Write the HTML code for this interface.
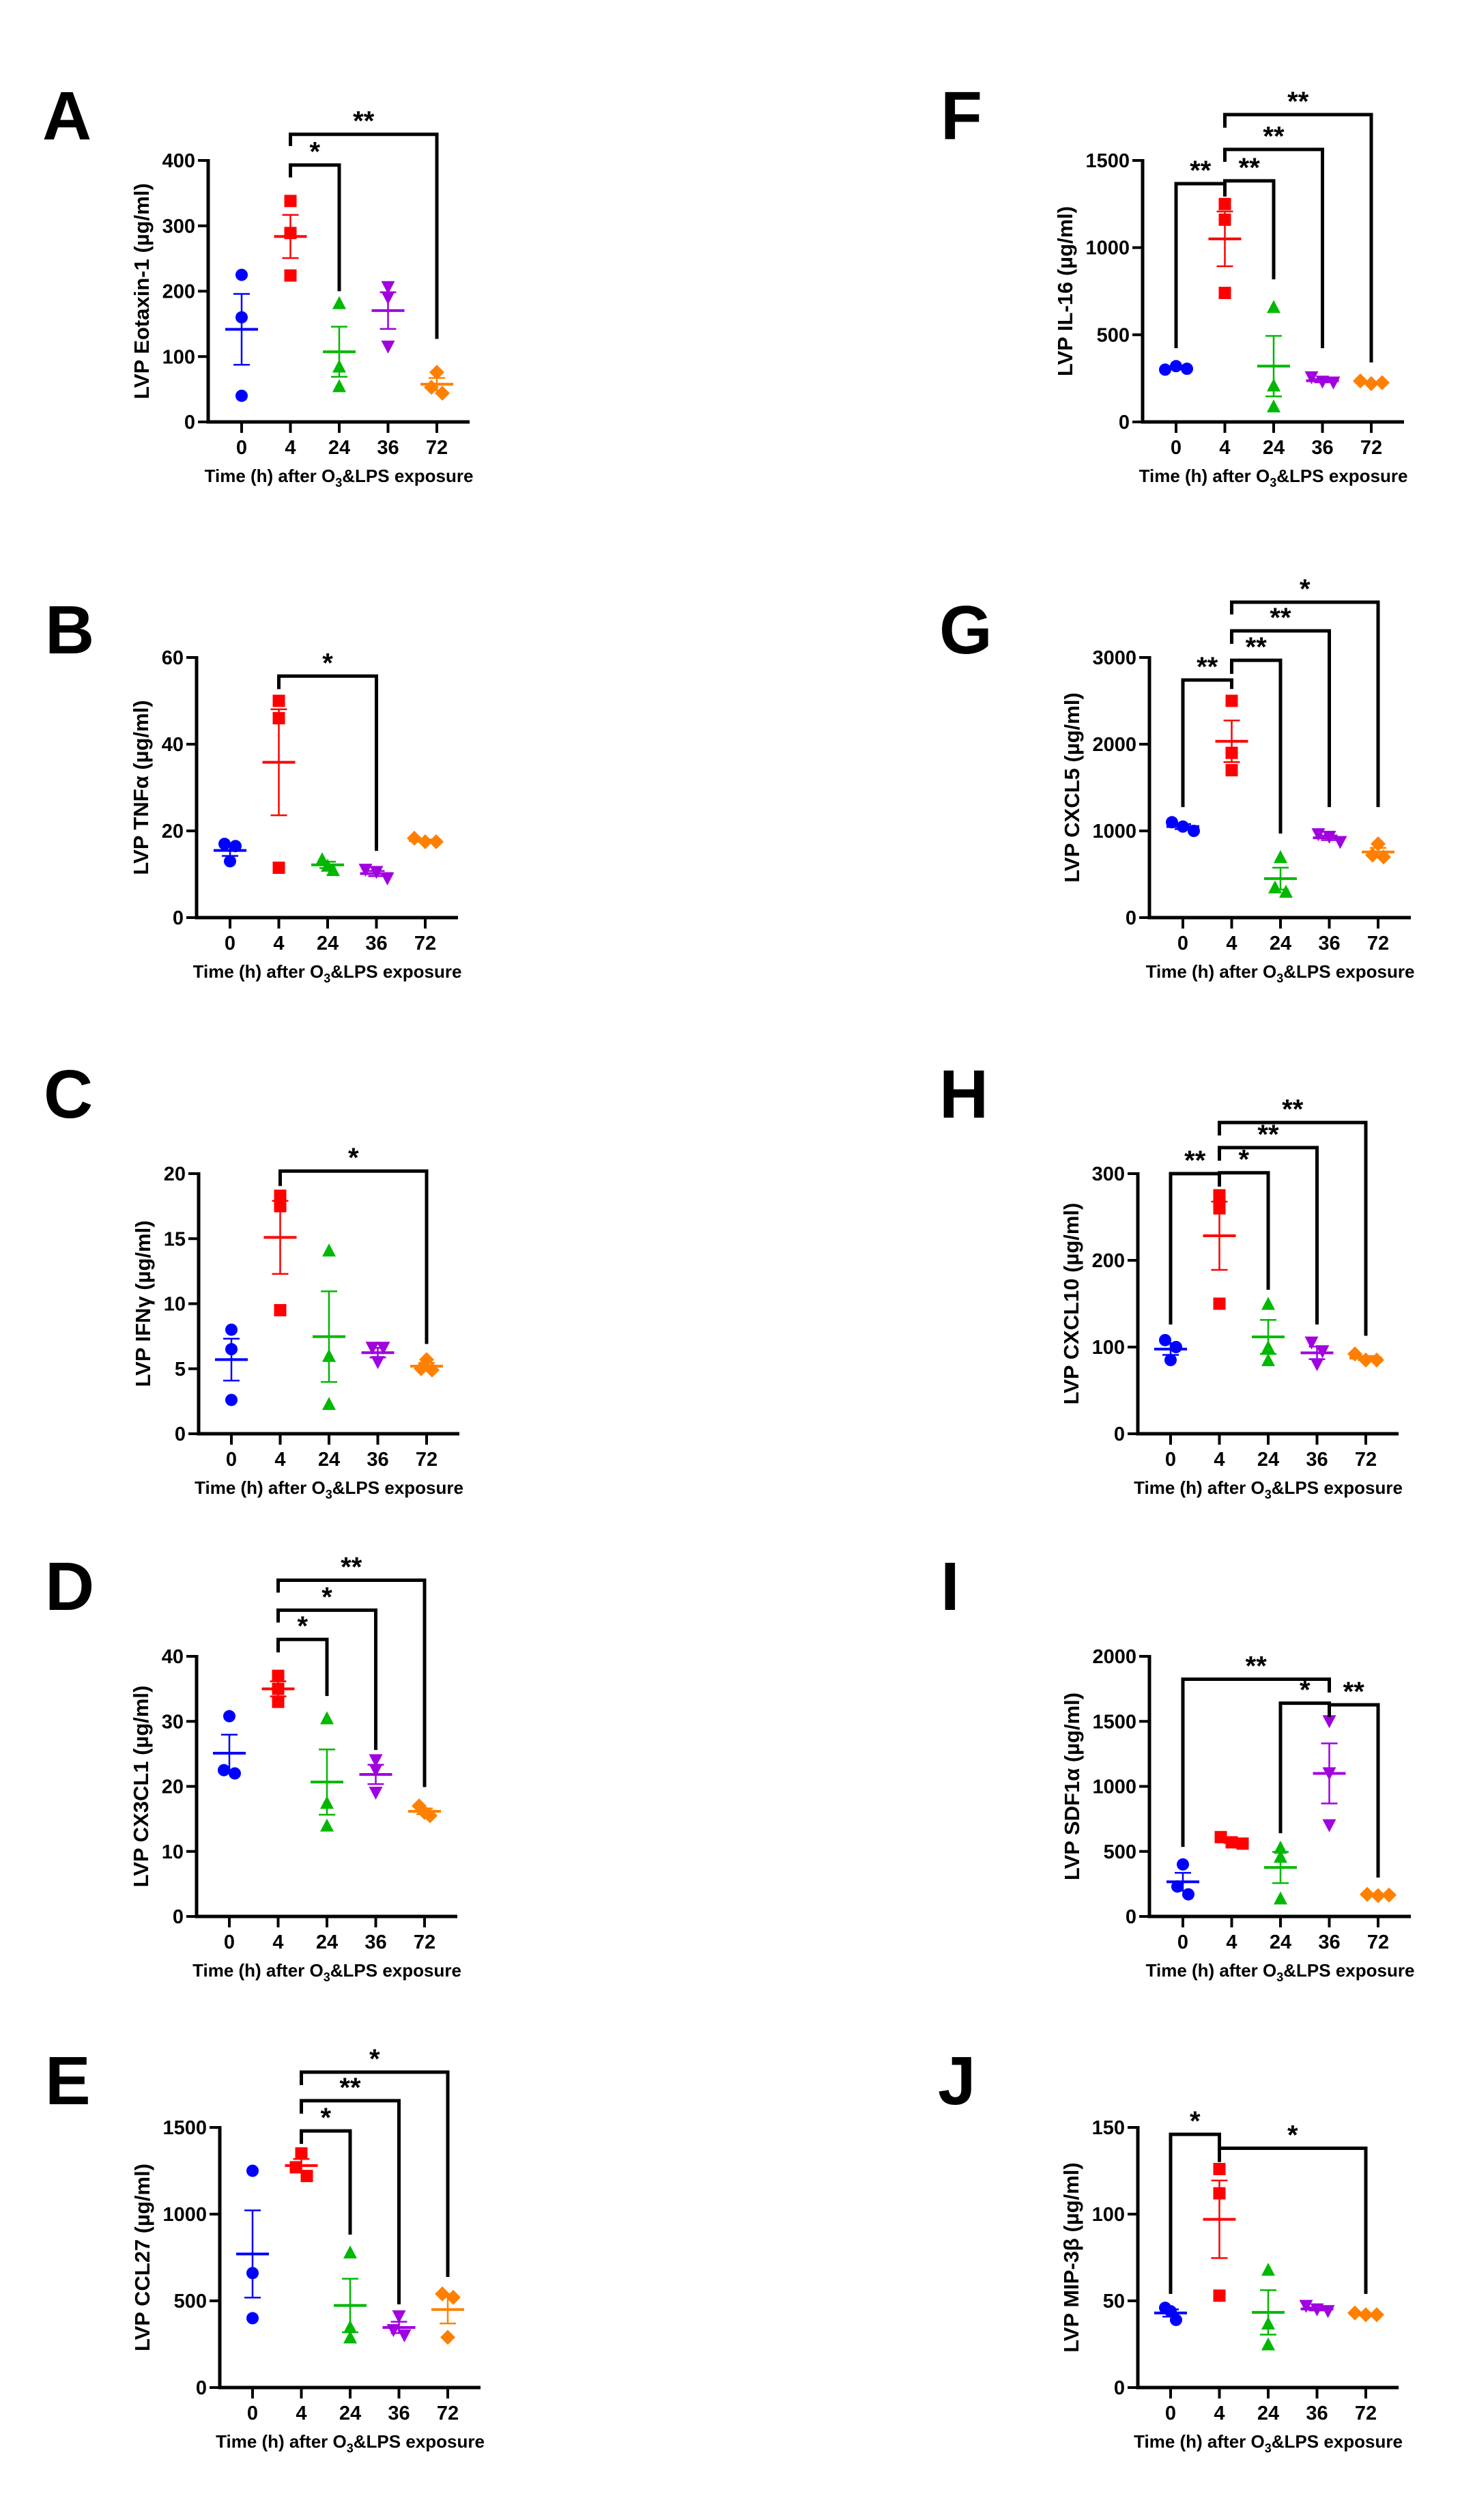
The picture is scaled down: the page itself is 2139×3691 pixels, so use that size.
<!DOCTYPE html>
<html><head><meta charset="utf-8"><style>
html,body{margin:0;padding:0;background:#fff;}
svg{display:block;font-family:"Liberation Sans",Arial,sans-serif;}
</style></head><body>
<svg id="fig" width="2139" height="3691" viewBox="0 0 2139 3691" xmlns="http://www.w3.org/2000/svg"></svg>
<script>
const categories = ["0","4","24","36","72"];
const colors = ["#0000ff","#ff0000","#00b800","#a000e0","#ff8000"];

const valuesA = [[225,160,40],[338,289,224],[182,85,55],[206,190,115],[76,53,44]];
const ticksA = [0,100,200,300,400];
const bracketsA = [[1,2,393,374,200,"*"],[1,4,440,422,127,"**"]];

const valuesB = [[17,16.5,13],[50,46,11.5],[13.5,12,11],[11,10.5,9],[18.3,17.5,17.5]];
const ticksB = [0,20,40,60];
const bracketsB = [[1,3,55.7,52.7,15.4,"*"]];

const valuesC = [[8,6.5,2.6],[18.3,17.5,9.5],[14.1,6,2.3],[6.6,6.6,5.5],[5.7,5,4.9]];
const ticksC = [0,5,10,15,20];
const bracketsC = [[1,4,20.2,19.05,6.9,"*"]];

const valuesD = [[30.8,22.5,22],[37,35,33],[30.5,17.5,14],[24,22.5,19],[17,16,15.5]];
const ticksD = [0,10,20,30,40];
const bracketsD = [[1,2,42.6,40.6,33.9,"*"],[1,3,47.1,45.2,25.6,"*"],[1,4,51.7,49.8,19.9,"**"]];

const valuesE = [[1250,660,400],[1350,1270,1220],[780,350,290],[410,330,300],[540,520,290]];
const ticksE = [0,500,1000,1500];
const bracketsE = [[1,2,1480,1405,882,"*"],[1,3,1654,1579,480,"**"],[1,4,1819,1744,638,"*"]];

const valuesF = [[300,320,305],[1250,1160,740],[660,210,90],[255,230,225],[235,220,225]];
const ticksF = [0,500,1000,1500];
const bracketsF = [[0,1,1367,423,1293,"**"],[1,2,1383,1297,818,"**"],[1,3,1563,1492,423,"**"],[1,4,1763,1688,341,"**"]];

const valuesG = [[1100,1050,1000],[2500,1900,1700],[700,350,300],[960,930,870],[850,720,700]];
const ticksG = [0,1000,2000,3000];
const bracketsG = [[0,1,2740,1275,2637,"**"],[1,2,2968,2811,969,"**"],[1,3,3307,3157,1275,"**"],[1,4,3638,3496,1275,"*"]];

const valuesH = [[108,100,85],[275,260,150],[150,100,85],[105,95,80],[92,85,85]];
const ticksH = [0,100,200,300];
const bracketsH = [[0,1,300,126,285,"**"],[1,2,301,285,166,"*"],[1,3,330,315,126,"**"],[1,4,359,344,113,"**"]];

const valuesI = [[400,230,170],[610,570,560],[530,460,140],[1500,1100,700],[170,160,165]];
const ticksI = [0,500,1000,1500,2000];
const bracketsI = [[0,3,1824,535,1722,"**"],[2,3,1640,640,1533,"*"],[3,4,1627,1533,299,"**"]];

const valuesJ = [[46,44,39],[126,112,53],[68,37,25],[47,45,44],[43,42,42]];
const ticksJ = [0,50,100,150];
const bracketsJ = [[0,1,146,54,139,"*"],[1,4,138,130,54,"*"]];

const NS = "http://www.w3.org/2000/svg";
const svg = document.getElementById("fig");
function mk(tag, attrs, parent){
  const e = document.createElementNS(NS, tag);
  for (const k in attrs) e.setAttribute(k, attrs[k]);
  (parent||svg).appendChild(e);
  return e;
}

const panels = [
 {id:"a", letter:"A", lx:62, ly:204, ax:305, x0:354, top:235, bot:618, ymax:400, vals:valuesA, ticks:ticksA, br:bracketsA, label:"LVP Eotaxin-1 (µg/ml)"},
 {id:"b", letter:"B", lx:66, ly:957, ax:288, x0:337, top:963, bot:1344, ymax:60, vals:valuesB, ticks:ticksB, br:bracketsB, label:"LVP TNFα (µg/ml)"},
 {id:"c", letter:"C", lx:64, ly:1637, ax:291, x0:339, top:1719, bot:2100, ymax:20, vals:valuesC, ticks:ticksC, br:bracketsC, label:"LVP IFNγ (µg/ml)"},
 {id:"d", letter:"D", lx:66, ly:2358, ax:288, x0:336, top:2426, bot:2807, ymax:40, vals:valuesD, ticks:ticksD, br:bracketsD, label:"LVP CX3CL1 (µg/ml)"},
 {id:"e", letter:"E", lx:66, ly:3082, ax:322, x0:370, top:3116, bot:3497, ymax:1500, vals:valuesE, ticks:ticksE, br:bracketsE, label:"LVP CCL27 (µg/ml)"},
 {id:"f", letter:"F", lx:1378, ly:204, ax:1674, x0:1723, top:235, bot:618, ymax:1500, vals:valuesF, ticks:ticksF, br:bracketsF, label:"LVP IL-16 (µg/ml)"},
 {id:"g", letter:"G", lx:1376, ly:957, ax:1684, x0:1733, top:963, bot:1344, ymax:3000, vals:valuesG, ticks:ticksG, br:bracketsG, label:"LVP CXCL5 (µg/ml)"},
 {id:"h", letter:"H", lx:1376, ly:1637, ax:1667, x0:1715, top:1719, bot:2100, ymax:300, vals:valuesH, ticks:ticksH, br:bracketsH, label:"LVP CXCL10 (µg/ml)"},
 {id:"i", letter:"I", lx:1378, ly:2358, ax:1684, x0:1733, top:2426, bot:2807, ymax:2000, vals:valuesI, ticks:ticksI, br:bracketsI, label:"LVP SDF1α (µg/ml)"},
 {id:"j", letter:"J", lx:1374, ly:3082, ax:1667, x0:1715, top:3116, bot:3497, ymax:150, vals:valuesJ, ticks:ticksJ, br:bracketsJ, label:"LVP MIP-3β (µg/ml)"}
];
const STEP = 71.5;

function marker(g, shape, cx, cy, col){
  const s = 9;
  let e;
  if (shape===0){ e = mk("circle",{cx:cx,cy:cy,r:s,fill:col},g); }
  else if (shape===1){ e = mk("rect",{x:cx-s,y:cy-s,width:2*s,height:2*s,fill:col},g); }
  else if (shape===2){ e = mk("polygon",{points:`${cx},${cy-s-1} ${cx+s+1},${cy+s} ${cx-s-1},${cy+s}`,fill:col},g); }
  else if (shape===3){ e = mk("polygon",{points:`${cx-s-1},${cy-s} ${cx+s+1},${cy-s} ${cx},${cy+s+1}`,fill:col},g); }
  else { e = mk("polygon",{points:`${cx},${cy-s-2} ${cx+s+2},${cy} ${cx},${cy+s+2} ${cx-s-2},${cy}`,fill:col},g); }
  return e;
}

panels.forEach(p=>{
  const g = mk("g",{});
  
  
  const y = v => p.bot - (v/p.ymax)*(p.bot-p.top);
  const x = i => p.x0 + i*STEP;
  const axEnd = p.x0 + 4*STEP + 48;

  const L = mk("text",{x:p.lx,y:p.ly,"font-size":100,"font-weight":"bold",fill:"#000"},g);
  L.textContent = p.letter;
  
  

  const ya = mk("line",{x1:p.ax,y1:p.top-2,x2:p.ax,y2:p.bot+2.5,stroke:"#000","stroke-width":5},g);
  
  
  const xa = mk("line",{x1:p.ax-2.5,y1:p.bot,x2:axEnd,y2:p.bot,stroke:"#000","stroke-width":5},g);
  
  

  let maxLen = 1;
  p.ticks.forEach(t=>{
    const ty = y(t);
    maxLen = Math.max(maxLen, String(t).length);
    const tl = mk("line",{x1:p.ax-15,y1:ty,x2:p.ax,y2:ty,stroke:"#000","stroke-width":4},g);
    
    
    const tt = mk("text",{x:p.ax-19,y:ty+10,"font-size":29,"font-weight":"bold","text-anchor":"end",fill:"#000"},g);
    tt.textContent = t;
    
    
  });
  categories.forEach((c,i)=>{
    const tl = mk("line",{x1:x(i),y1:p.bot,x2:x(i),y2:p.bot+16,stroke:"#000","stroke-width":4},g);
    
    
    const tt = mk("text",{x:x(i),y:p.bot+47,"font-size":29,"font-weight":"bold","text-anchor":"middle",fill:"#000"},g);
    tt.textContent = c;
    
    
  });
  const xt = mk("text",{x:(p.ax+axEnd)/2,y:p.bot+88,"font-size":26,"font-weight":"bold","text-anchor":"middle",fill:"#000"},g);
  xt.innerHTML = 'Time (h) after O<tspan font-size="18" dy="7">3</tspan><tspan dy="-7">&amp;LPS exposure</tspan>';
  
  
  const cy = (p.top+p.bot)/2, lx = p.ax - 19 - maxLen*16 - 20;
  const yt = mk("text",{x:lx,y:cy,"font-size":31,"font-weight":"bold","text-anchor":"middle",fill:"#000",transform:`rotate(-90 ${lx} ${cy})`},g);
  yt.textContent = p.label;
  
  

  p.vals.forEach((vs,i)=>{
    const col = colors[i];
    const n = vs.length;
    const mean = vs.reduce((a,b)=>a+b,0)/n;
    const sd = Math.sqrt(vs.reduce((a,b)=>a+(b-mean)*(b-mean),0)/(n-1));
    const sem = sd/Math.sqrt(n);
    const cx = x(i);
    const sg = mk("g",{},g);
    
    
    const pys = vs.map(v=>y(v));
    pys.forEach((py,k)=>{
      const cl = pys.map((q,j)=>j).filter(j=>Math.abs(pys[j]-py)<13);
      let off = 0;
      if (cl.length>1){ const r = cl.indexOf(k); off = (r-(cl.length-1)/2)*16; }
      const m = marker(sg, i, cx+off, py, col);
      
      
    });
    const eb = mk("line",{x1:cx,y1:y(mean+sem),x2:cx,y2:y(mean-sem),stroke:col,"stroke-width":2.5},sg);
    
    
    [mean+sem, mean-sem].forEach(v=>{
      const cp = mk("line",{x1:cx-12,y1:y(v),x2:cx+12,y2:y(v),stroke:col,"stroke-width":2.5},sg);
      
      
    });
    const ml = mk("line",{x1:cx-24,y1:y(mean),x2:cx+24,y2:y(mean),stroke:col,"stroke-width":4},sg);
    
    
  });

  p.br.forEach(b=>{
    const [a,c,bar,ld,rd,lab] = b;
    const xa1 = x(a);
    const xb = x(c);
    const pth = mk("path",{d:`M${xa1},${y(ld)} L${xa1},${y(bar)} L${xb},${y(bar)} L${xb},${y(rd)}`,fill:"none",stroke:"#000","stroke-width":5},g);
    
    
    const st = mk("text",{x:(xa1+xb)/2,y:y(bar)-6,"font-size":40,"font-weight":"bold","text-anchor":"middle",fill:"#000"},g);
    st.textContent = lab;
    
    
  });
});
</script>
</body></html>
